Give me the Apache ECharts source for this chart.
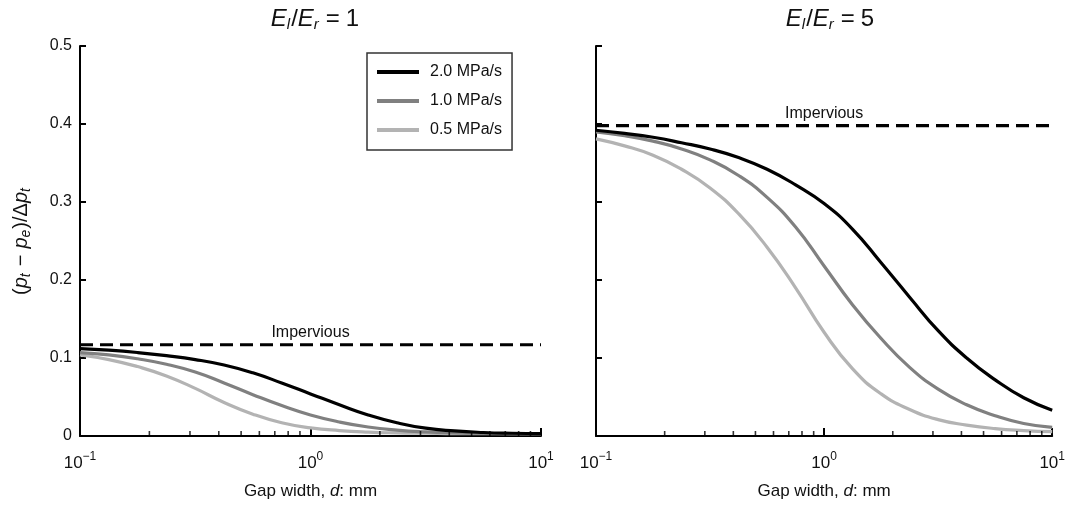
<!DOCTYPE html>
<html>
<head>
<meta charset="utf-8">
<script src="https://cdn.jsdelivr.net/npm/echarts@6/dist/echarts.min.js"></script>
<style>
html,body{margin:0;padding:0;background:#fff;}
#chart{width:1068px;height:506px;}
</style>
</head>
<body>
<div id="chart"></div>
<script>
// Gap width d (mm): points, evenly spaced on the log axis
const gapWidth = [0.1, 0.1334, 0.1778, 0.2371, 0.3162, 0.4217, 0.5623, 0.7499, 1, 1.334, 1.778, 2.371, 3.162, 4.217, 5.623, 7.499, 10];

// Panel E_l/E_r = 1
const left20 = [0.112, 0.110, 0.107, 0.103, 0.098, 0.091, 0.081, 0.068, 0.054, 0.040, 0.027, 0.017, 0.010, 0.0065, 0.0045, 0.0035, 0.003];
const left10 = [0.107, 0.104, 0.099, 0.092, 0.082, 0.068, 0.053, 0.039, 0.027, 0.018, 0.0115, 0.0075, 0.0052, 0.004, 0.0034, 0.003, 0.003];
const left05 = [0.104, 0.098, 0.089, 0.077, 0.061, 0.043, 0.028, 0.017, 0.0105, 0.007, 0.005, 0.004, 0.0035, 0.003, 0.003, 0.003, 0.003];
const leftImpervious = 0.117;

// Panel E_l/E_r = 5
const right20 = [0.392, 0.388, 0.383, 0.376, 0.368, 0.357, 0.342, 0.322, 0.298, 0.265, 0.222, 0.178, 0.135, 0.100, 0.072, 0.049, 0.033];
const right10 = [0.390, 0.385, 0.378, 0.368, 0.354, 0.334, 0.306, 0.268, 0.218, 0.168, 0.125, 0.088, 0.060, 0.040, 0.026, 0.016, 0.011];
const right05 = [0.381, 0.372, 0.360, 0.342, 0.318, 0.285, 0.242, 0.190, 0.133, 0.086, 0.054, 0.034, 0.021, 0.014, 0.0095, 0.007, 0.0055];
const rightImpervious = 0.398;

const seriesNames = ['2.0 MPa/s', '1.0 MPa/s', '0.5 MPa/s'];
const seriesColors = ['#000000', '#808080', '#b3b3b3'];
const panelTitles = ['1', '5'];
const minorTickValues = [0.2,0.3,0.4,0.5,0.6,0.7,0.8,0.9,2,3,4,5,6,7,8,9];
const imperviousLabel = 'Impervious';

const FONT = '"Liberation Sans", Arial, sans-serif';

function pairs(vals){ return gapWidth.map((d,i)=>[d, vals[i]]); }

function xAxisCfg(gi){
  return {
    type:'log', logBase:10, min:0.1, max:10, gridIndex:gi,
    name:'{n|Gap width, }{i|d}{n|: mm}',
    nameLocation:'middle', nameGap:47,
    nameTextStyle:{fontSize:17,fontFamily:FONT,color:'#111',rich:{n:{fontSize:17,fontFamily:FONT,color:'#111'},i:{fontSize:17,fontFamily:FONT,fontStyle:'italic',color:'#111'}}},
    axisLine:{show:true,lineStyle:{color:'#000',width:2}},
    axisTick:{show:true,inside:true,length:8,lineStyle:{color:'#000',width:2}},
    splitLine:{show:false},
    axisLabel:{
      margin:15,
      formatter:function(v){
        const e = Math.round(Math.log10(v));
        return '{b|10}{s|' + (e<0 ? '\u2212'+(-e) : e) + '}';
      },
      rich:{
        b:{fontSize:17,fontFamily:FONT,color:'#111'},
        s:{fontSize:12,fontFamily:FONT,color:'#111',padding:[0,0,13,0]}
      }
    }
  };
}
function yAxisCfg(gi, showLabels){
  const c = {
    type:'value', min:0, max:0.5, interval:0.1, gridIndex:gi,
    axisLine:{show:true,lineStyle:{color:'#000',width:2}},
    axisTick:{show:true,inside:true,length:6,lineStyle:{color:'#000',width:2}},
    splitLine:{show:false},
    axisLabel:{show:showLabels,margin:8,fontSize:16,fontFamily:FONT,color:'#111',
      formatter:function(v){ return v===0 ? '0' : v.toFixed(1); }}
  };
  if(showLabels){
    c.name = '{n|(}{i|p}{sub|t}{m|\u2212}{i|p}{sub|e}{n|)/\u0394}{i|p}{sub|t}';
    c.nameLocation = 'middle';
    c.nameGap = 47;
    c.nameRotate = 90;
    c.nameTextStyle = {fontSize:20,fontFamily:FONT,color:'#111',rich:{
      n:{fontSize:20,fontFamily:FONT,color:'#111'},
      m:{fontSize:20,fontFamily:FONT,color:'#111',padding:[0,6,0,6]},
      i:{fontSize:20,fontFamily:FONT,fontStyle:'italic',color:'#111'},
      sub:{fontSize:14,fontFamily:FONT,fontStyle:'italic',color:'#111',padding:[10,1,0,0]}
    }};
  }
  return c;
}

const series = [];
[[left20,left10,left05,leftImpervious],[right20,right10,right05,rightImpervious]].forEach((panel,gi)=>{
  for(let k=0;k<3;k++){
    series.push({
      type:'line', name:seriesNames[k], xAxisIndex:gi, yAxisIndex:gi,
      data:pairs(panel[k]), showSymbol:false, smooth:0.5, smoothConstraint:false,
      lineStyle:{color:seriesColors[k],width:3.2}, itemStyle:{color:seriesColors[k]},
      z:3-k+2, silent:true
    });
  }
  const imp = panel[3];
  series.push({
    type:'line', name:'imp'+gi, xAxisIndex:gi, yAxisIndex:gi,
    data:[
      {value:[0.1,imp], symbolSize:0},
      {value:[1,imp], symbolSize:0, label:{show:true,position:'top',distance:4,formatter:imperviousLabel,fontSize:16,fontFamily:FONT,color:'#111'}},
      {value:[10,imp], symbolSize:0}
    ],
    showSymbol:true, symbol:'circle', symbolSize:0,
    lineStyle:{color:'#000',width:3.2,type:[13,7]}, z:6, silent:true
  });
  series.push({
    type:'scatter', name:'minor'+gi, xAxisIndex:gi, yAxisIndex:gi,
    data:minorTickValues.map(v=>[v,0]),
    symbol:'rect', symbolSize:[1.6,5], symbolOffset:[0,-2.5],
    itemStyle:{color:'#000'}, z:10, silent:true
  });
});

const titleRich = {
  i:{fontSize:24,fontFamily:FONT,fontStyle:'italic',fontWeight:'normal',color:'#111'},
  sub:{fontSize:15,fontFamily:FONT,fontStyle:'italic',fontWeight:'normal',color:'#111',padding:[11,1,0,0]},
  n:{fontSize:24,fontFamily:FONT,fontWeight:'normal',color:'#111'},
  m:{fontSize:24,fontFamily:FONT,fontWeight:'normal',color:'#111',padding:[0,6,0,6]}
};

const option = {
  animation:false,
  backgroundColor:'#fff',
  title:[
    {text:'{i|E}{sub|l}{n|/}{i|E}{sub|r}{m|=}{n|'+panelTitles[0]+'}', left:310, top:1, textAlign:'center', textStyle:{fontWeight:'normal',rich:titleRich}},
    {text:'{i|E}{sub|l}{n|/}{i|E}{sub|r}{m|=}{n|'+panelTitles[1]+'}', left:825, top:1, textAlign:'center', textStyle:{fontWeight:'normal',rich:titleRich}}
  ],
  legend:{
    data:seriesNames, orient:'vertical', left:367, top:53,
    icon:'rect', itemWidth:42, itemHeight:4, itemGap:13,
    padding:[11,10,12,10],
    borderColor:'#333', borderWidth:1.5, borderRadius:0,
    textStyle:{fontSize:16,fontFamily:FONT,color:'#111',padding:[0,0,0,6]},
    selectedMode:false
  },
  grid:[
    {left:80, top:46, width:461, height:390},
    {left:596, top:46, width:458, height:390}
  ],
  xAxis:[xAxisCfg(0), xAxisCfg(1)],
  yAxis:[yAxisCfg(0,true), yAxisCfg(1,false)],
  series:series
};

const chart = echarts.init(document.getElementById('chart'), null, {renderer:'canvas'});
chart.setOption(option);
</script>
</body>
</html>
